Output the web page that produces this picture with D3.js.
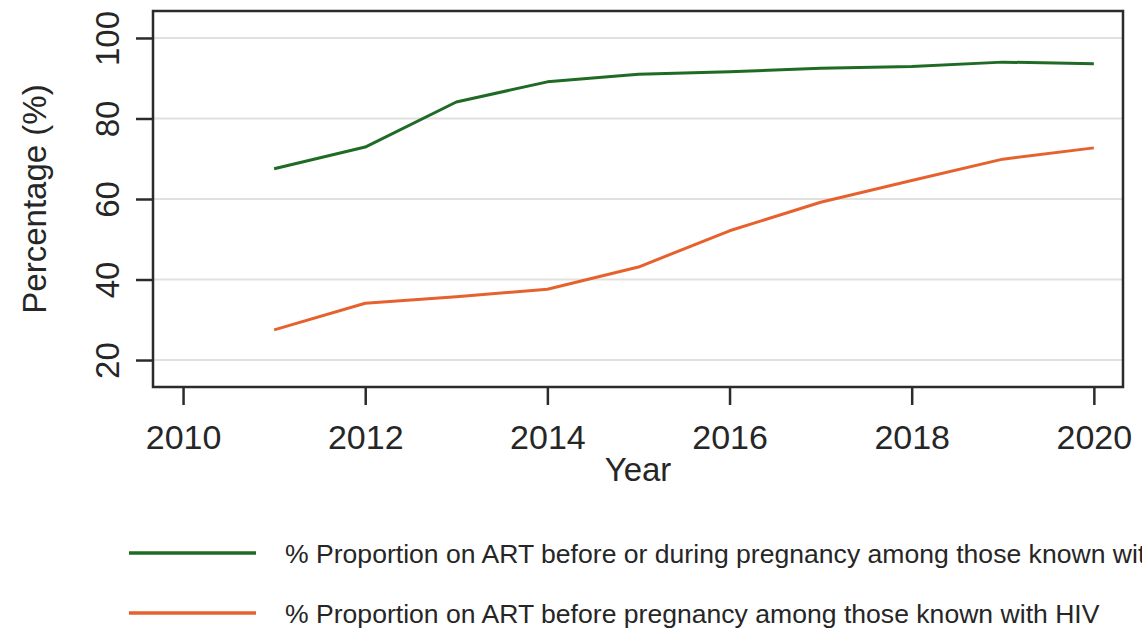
<!DOCTYPE html>
<html>
  <head>
    <meta charset="utf-8">
    <title>ART proportion</title>
    <script src="https://d3js.org/d3.v7.min.js"></script>
    <style>
      body { margin: 0; background: #fff; }
      svg text { font-family: "Liberation Sans", Arial, sans-serif; fill: #262626; }
      .legendText { font-family: "Liberation Sans Narrow", "Liberation Sans", Arial, sans-serif; }
    </style>
  </head>
  <body>
    <svg id="chart" width="1142" height="632"></svg>
    <script>
      // data
      var years = [2011, 2012, 2013, 2014, 2015, 2016, 2017, 2018, 2019, 2020];
      var beforeOrDuring = [67.5, 72.9, 84.1, 89.1, 91.0, 91.6, 92.5, 92.9, 94.0, 93.6];
      var beforeOnly = [27.5, 34.1, 35.7, 37.6, 43.1, 52.1, 59.2, 64.6, 69.9, 72.7];
      var xTicks = [2010, 2012, 2014, 2016, 2018, 2020];
      var yTicks = [20, 40, 60, 80, 100];
      var seriesNames = [
        "% Proportion on ART before or during pregnancy among those known with HIV",
        "% Proportion on ART before pregnancy among those known with HIV"
      ];
      var seriesColors = ["#1f6b25", "#e5622e"];

      var svg = d3.select("#chart");
      var box = { left: 153, right: 1123, top: 11, bottom: 387 };

      var x = d3.scaleLinear()
        .domain([2009.67, 2020.32])
        .range([box.left, box.right]);
      var y = d3.scaleLinear()
        .domain([13.3, 106.7])
        .range([box.bottom, box.top]);

      // gridlines
      svg.append("g")
        .selectAll("line")
        .data(yTicks)
        .enter()
        .append("line")
          .attr("x1", box.left)
          .attr("x2", box.right)
          .attr("y1", function(d) { return y(d); })
          .attr("y2", function(d) { return y(d); })
          .attr("stroke", "#e0e0e0")
          .attr("stroke-width", 2);

      // lines
      var line = d3.line()
        .x(function(d) { return x(d[0]); })
        .y(function(d) { return y(d[1]); });
      [beforeOrDuring, beforeOnly].forEach(function(vals, i) {
        svg.append("path")
          .attr("d", line(years.map(function(yr, j) { return [yr, vals[j]]; })))
          .attr("fill", "none")
          .attr("stroke", seriesColors[i])
          .attr("stroke-width", 3)
          .attr("stroke-linejoin", "round");
      });

      // frame
      svg.append("rect")
        .attr("x", box.left)
        .attr("y", box.top)
        .attr("width", box.right - box.left)
        .attr("height", box.bottom - box.top)
        .attr("fill", "none")
        .attr("stroke", "#2b2b2b")
        .attr("stroke-width", 2.5);

      // x axis
      var xAxis = d3.axisBottom(x)
        .tickValues(xTicks)
        .tickFormat(d3.format("d"))
        .tickSize(18)
        .tickPadding(20);
      var gx = svg.append("g")
        .attr("transform", "translate(0," + box.bottom + ")")
        .call(xAxis);
      gx.select(".domain").remove();
      gx.selectAll(".tick line").attr("stroke", "#2b2b2b").attr("stroke-width", 2.5);
      gx.selectAll(".tick text")
        .attr("font-size", 34)
        .attr("font-family", "Liberation Sans, Arial, sans-serif")
        .attr("fill", "#262626");

      // y axis
      var yAxis = d3.axisLeft(y)
        .tickValues(yTicks)
        .tickSize(17)
        .tickFormat(d3.format("d"));
      var gy = svg.append("g")
        .attr("transform", "translate(" + box.left + ",0)")
        .call(yAxis);
      gy.select(".domain").remove();
      gy.selectAll(".tick line").attr("stroke", "#2b2b2b").attr("stroke-width", 2.5);
      gy.selectAll(".tick text")
        .attr("font-size", 33)
        .attr("font-family", "Liberation Sans, Arial, sans-serif")
        .attr("fill", "#262626")
        .attr("text-anchor", "middle")
        .attr("x", null)
        .attr("dy", null)
        .attr("transform", "translate(-34,0) rotate(-90)");

      // axis titles
      svg.append("text")
        .attr("transform", "translate(46," + (box.top + box.bottom) / 2 + ") rotate(-90)")
        .attr("text-anchor", "middle")
        .attr("font-size", 33)
        .text("Percentage (%)");
      svg.append("text")
        .attr("x", (box.left + box.right) / 2)
        .attr("y", 481)
        .attr("text-anchor", "middle")
        .attr("font-size", 33)
        .text("Year");

      // legend
      var legendY = [553, 613];
      var legend = svg.append("g");
      var labels = [];
      seriesNames.forEach(function(name, i) {
        legend.append("line")
          .attr("x1", 129)
          .attr("x2", 256)
          .attr("y1", legendY[i])
          .attr("y2", legendY[i])
          .attr("stroke", seriesColors[i])
          .attr("stroke-width", 3.5);
        labels.push(legend.append("text")
          .attr("class", "legendText")
          .attr("x", 0)
          .attr("y", 0)
          .attr("font-size", 26)
          .text(name));
      });
      // squeeze the text the way the original is squeezed
      var sx = 815 / labels[1].node().getComputedTextLength();
      labels.forEach(function(t, i) {
        t.attr("transform", "translate(285," + (legendY[i] + 10) + ") scale(" + sx + ",1)");
      });
    </script>
  </body>
</html>
